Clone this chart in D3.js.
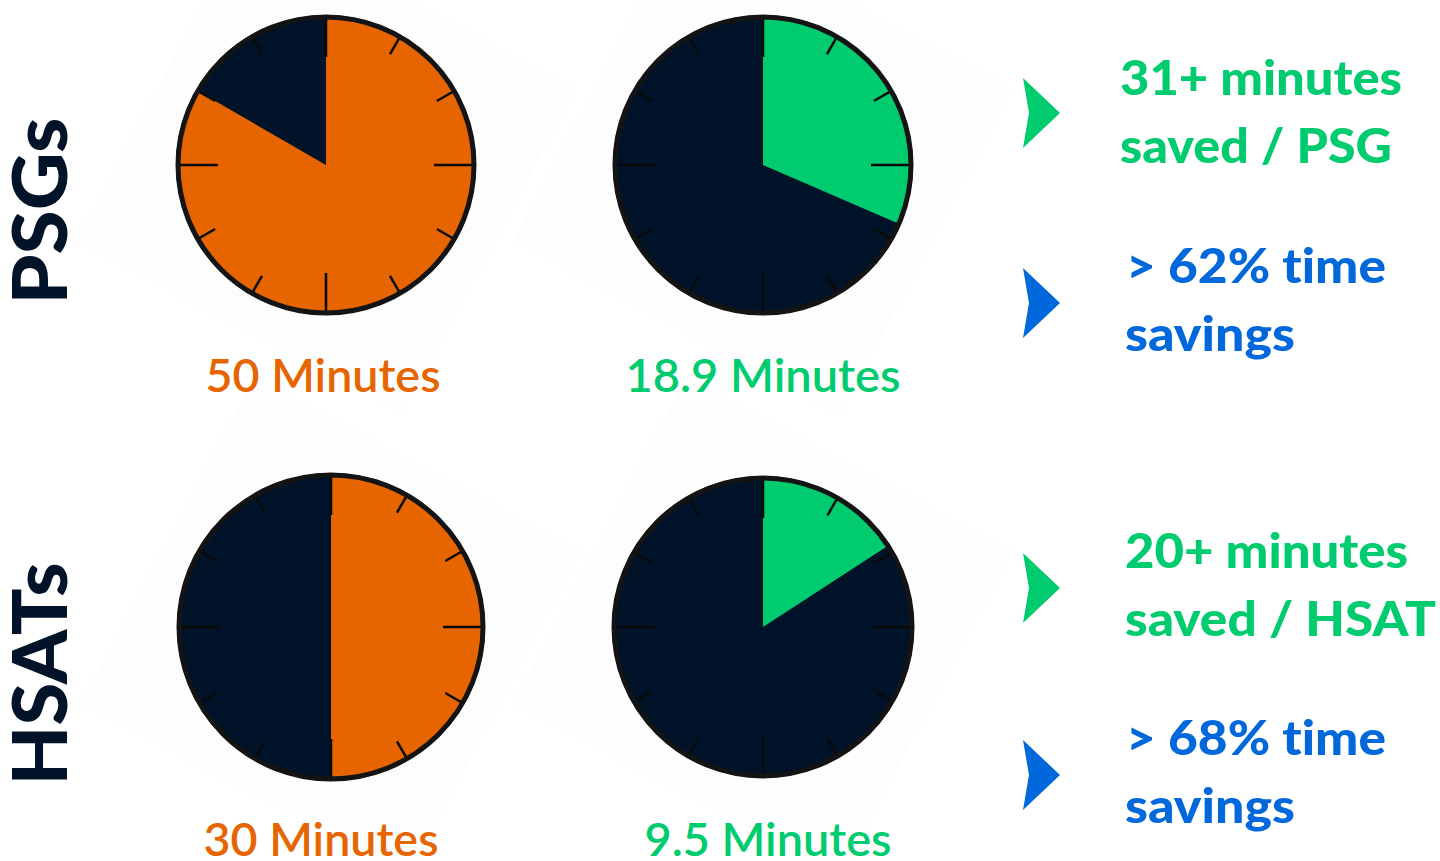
<!DOCTYPE html>
<html>
<head>
<meta charset="utf-8">
<script src="https://cdn.jsdelivr.net/npm/d3@7"></script>
<style>
  html, body { margin: 0; padding: 0; background: #ffffff; }
  svg { display: block; }
  text { font-variant-ligatures: none; }
</style>
</head>
<body>
<svg id="chart" width="1440" height="861"></svg>
<script>
// ---------- data ----------
const groups = ["PSGs", "HSATs"];
const beforeMinutes = [50, 30];          // orange clocks
const afterMinutes = [18.9, 9.5];        // green clocks
const beforeLabels = ["50 Minutes", "30 Minutes"];
const afterLabels = ["18.9 Minutes", "9.5 Minutes"];
const savedLines = [["31+ minutes", "saved / PSG"], ["20+ minutes", "saved / HSAT"]];
const percentLines = [["> 62% time", "savings"], ["> 68% time", "savings"]];
const clockTicks = d3.range(0, 60, 5);   // 12 hour marks

// ---------- style / layout ----------
const C = { orange: "#e66500", navy: "#001329", green: "#00cb6e", blue: "#0068da", rim: "#141414" };
const svg = d3.select("#chart");
const bgLayer = svg.append("g");
const clockLayer = svg.append("g");
const textLayer = svg.append("g");
const angle = d3.scaleLinear().domain([0, 60]).range([0, 2 * Math.PI]);
const rowY = [165, 627];
const colX = [[326, 763], [331, 763]];
const radius = [[150, 150], [154, 151]];
const labelY = [392, 856];
const labelX = [[323, 763], [321, 768]];
const labelW = [[235, 275], [235, 247]];
const sideLabel = { x: 40, y: [211, 674], w: [187, 223] };

function drawClock(cx, cy, r, minutes, fillColor, bgRot) {
  bgLayer.append("rect")
    .attr("x", -185).attr("y", -185).attr("width", 370).attr("height", 370)
    .attr("transform", `translate(${cx},${cy}) rotate(${bgRot})`)
    .attr("fill", "#fdfdfd");
  const g = clockLayer.append("g").attr("transform", `translate(${cx},${cy})`);
  g.append("circle").attr("r", r).attr("fill", C.navy);
  const arc = d3.arc().innerRadius(0).outerRadius(r - 2);
  g.append("path")
    .attr("d", arc({ startAngle: angle(0), endAngle: angle(minutes) }))
    .attr("fill", fillColor);
  g.selectAll("line.tick").data(clockTicks).join("line")
    .attr("class", "tick")
    .attr("x1", d => Math.sin(angle(d)) * (r - 3))
    .attr("y1", d => -Math.cos(angle(d)) * (r - 3))
    .attr("x2", d => Math.sin(angle(d)) * (r - (d % 15 === 0 ? 42 : 22)))
    .attr("y2", d => -Math.cos(angle(d)) * (r - (d % 15 === 0 ? 42 : 22)))
    .attr("stroke", "#0a0a0a")
    .attr("stroke-width", 2.5);
  g.append("circle").attr("r", r - 2).attr("fill", "none")
    .attr("stroke", C.rim).attr("stroke-width", 5);
}

function fitText(x, y, txt, size, color, width, weight, anchor) {
  return textLayer.append("text")
    .attr("x", x).attr("y", y)
    .attr("text-anchor", anchor || "start")
    .attr("font-family", "Lato, 'Noto Sans', sans-serif")
    .attr("font-weight", weight || 700)
    .attr("font-size", size)
    .attr("fill", color)
    .attr("textLength", width)
    .attr("lengthAdjust", "spacingAndGlyphs")
    .text(txt);
}

function chevron(x, yMid, color) {
  const p = d3.path();
  p.moveTo(x, yMid - 35);
  p.lineTo(x + 37, yMid);
  p.lineTo(x, yMid + 35);
  p.lineTo(x + 6, yMid);
  p.closePath();
  textLayer.append("path").attr("d", p.toString()).attr("fill", color);
}

groups.forEach((grp, i) => {
  drawClock(colX[i][0], rowY[i], radius[i][0], beforeMinutes[i], C.orange, 28);
  drawClock(colX[i][1], rowY[i], radius[i][1], afterMinutes[i], C.green, 28);

  fitText(labelX[i][0], labelY[i], beforeLabels[i], 46, C.orange, labelW[i][0], 600, "middle");
  fitText(labelX[i][1], labelY[i], afterLabels[i], 46, C.green, labelW[i][1], 600, "middle");

  textLayer.append("text")
    .attr("transform", `translate(${sideLabel.x + 27},${sideLabel.y[i]}) rotate(-90)`)
    .attr("text-anchor", "middle")
    .attr("font-family", "Lato, 'Noto Sans', sans-serif")
    .attr("font-weight", 900)
    .attr("font-size", 76)
    .attr("fill", C.navy)
    .attr("textLength", sideLabel.w[i])
    .attr("lengthAdjust", "spacingAndGlyphs")
    .text(grp);
});

// right-hand callouts
const calloutY = [[95, 163, 283, 351], [568, 636, 755, 823]];
const calloutX = [[1120, 1120, 1126, 1125], [1125, 1125, 1126, 1125]];
const calloutW = [[282, 272, 260, 170], [283, 311, 260, 170]];
const chevronY = [[113, 303], [588, 775]];
groups.forEach((grp, i) => {
  chevron(1023, chevronY[i][0], C.green);
  chevron(1023, chevronY[i][1], C.blue);
  const lines = savedLines[i].concat(percentLines[i]);
  lines.forEach((t, j) => {
    fitText(calloutX[i][j], calloutY[i][j], t, 48, j < 2 ? C.green : C.blue, calloutW[i][j], 900);
  });
});
</script>
</body>
</html>
